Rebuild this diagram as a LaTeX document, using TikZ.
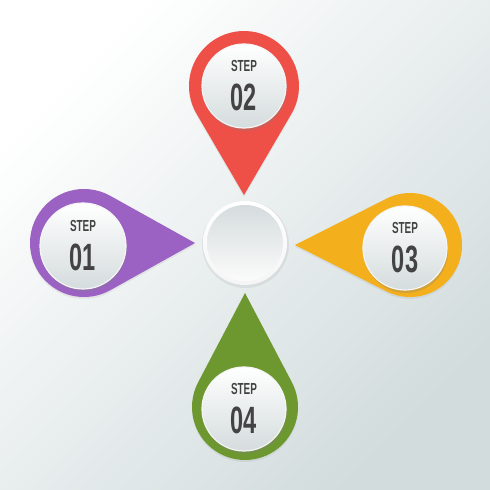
\documentclass[tikz,border=0pt]{standalone}
\usepackage{fontspec}
\newfontfamily\stepfont{Liberation Sans}[FakeStretch=0.62]
\usetikzlibrary{shadows,calc}
\definecolor{bgdark}{HTML}{D2DCDD}
\definecolor{pred}{HTML}{EE5048}
\definecolor{ppurple}{HTML}{9B62C4}
\definecolor{pyellow}{HTML}{F3AF1C}
\definecolor{pgreen}{HTML}{6D9830}
\definecolor{txt}{HTML}{434343}
\definecolor{wlow}{HTML}{D5DCDD}
\newcommand\pinshape[6]{%
  \pgfmathsetmacro\pa{acos(#3/#5)}%
  \fill[#6, drop shadow={shadow xshift=0pt, shadow yshift=-2pt, opacity=0.12}]
    ($(#1,#2)+(#4:#5)$) -- ($(#1,#2)+(#4+\pa:#3)$)
    arc[start angle=#4+\pa, end angle=#4+360-\pa, radius=#3] -- cycle;
}
\tikzset{
  whitedisc/.style={top color=white, bottom color=wlow, draw=white!92!gray, line width=1.2pt,
    drop shadow={shadow xshift=1pt, shadow yshift=-3pt, opacity=0.28}},
  steptxt/.style={text=txt, font=\stepfont\bfseries\fontsize{16}{16}\selectfont, inner sep=0pt},
  numtxt/.style={text=txt, font=\stepfont\bfseries\fontsize{38}{38}\selectfont, inner sep=0pt}
}
\begin{document}
\begin{tikzpicture}[x=1pt,y=1pt]
\useasboundingbox (0,0) rectangle (490,490);
\shade[shading=axis, top color=white, bottom color=bgdark, shading angle=45] (0,0) rectangle (490,490);
% pins
\pinshape{244}{404}{55}{-90}{109}{pred}
\pinshape{84}{247}{54}{0}{111}{ppurple}
\pinshape{410}{245}{52}{180}{115}{pyellow}
\pinshape{245}{83}{53}{90}{114}{pgreen}
% center
\fill[black, opacity=0.06] (245.5,245.5) circle[radius=43.5];
\shade[top color=white, bottom color=white!92!gray] (245,247) circle[radius=42];
\shade[top color=wlow, bottom color=white!97!gray] (245,247) circle[radius=38];
% white discs
\shade[whitedisc] (244,404) circle[radius=42];
\shade[whitedisc] (83,244) circle[radius=43];
\shade[whitedisc] (405,242) circle[radius=42];
\shade[whitedisc] (244,81) circle[radius=42];
% texts
\node[steptxt] (s2) at (244,424) {STEP};
\node[numtxt] (n2) at (244,393) {02};
\node[steptxt] (s1) at (83,264) {STEP};
\node[numtxt] (n1) at (83,233) {01};
\node[steptxt] (s3) at (405,262) {STEP};
\node[numtxt] (n3) at (405,231) {03};
\node[steptxt] (s4) at (244,101) {STEP};
\node[numtxt] (n4) at (244,70) {04};
\end{tikzpicture}
\end{document}
